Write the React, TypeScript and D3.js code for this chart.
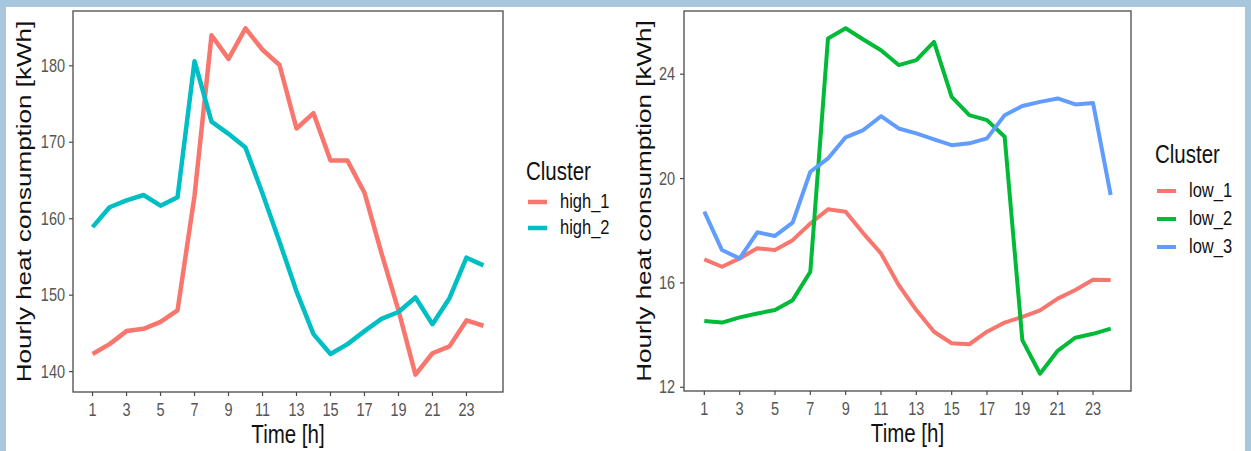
import React from "react";
import * as d3 from "d3";

const hours = d3.range(1, 25);
const xTicks = [1, 3, 5, 7, 9, 11, 13, 15, 17, 19, 21, 23];

const high1 = [142.3, 143.6, 145.3, 145.6, 146.5, 148.0, 163.0, 184.0, 180.9, 184.9, 182.1, 180.1, 171.8, 173.8, 167.6, 167.6, 163.4, 155.5, 148.0, 139.6, 142.4, 143.3, 146.7, 146.0];
const high2 = [158.9, 161.5, 162.4, 163.1, 161.7, 162.8, 180.6, 172.7, 171.1, 169.3, 163.3, 157.0, 150.5, 144.9, 142.3, 143.6, 145.3, 146.9, 147.8, 149.7, 146.2, 149.6, 154.9, 153.9];
const leftTicks = [140, 150, 160, 170, 180];

const low1 = [16.9, 16.62, 16.94, 17.33, 17.26, 17.64, 18.28, 18.82, 18.73, 17.9, 17.13, 15.92, 14.96, 14.13, 13.69, 13.65, 14.13, 14.48, 14.7, 14.95, 15.4, 15.73, 16.12, 16.11];
const low2 = [14.54, 14.48, 14.68, 14.83, 14.96, 15.34, 16.43, 25.37, 25.76, 25.33, 24.92, 24.35, 24.54, 25.24, 23.13, 22.43, 22.24, 21.6, 13.81, 12.52, 13.4, 13.9, 14.05, 14.25];
const low3 = [18.73, 17.26, 16.94, 17.94, 17.8, 18.31, 20.26, 20.77, 21.58, 21.86, 22.39, 21.92, 21.73, 21.5, 21.28, 21.35, 21.54, 22.43, 22.78, 22.94, 23.07, 22.84, 22.9, 19.37];
const rightTicks = [12, 16, 20, 24];

const leftSeries = [
  { name: "high_1", values: high1, color: "#F8766D" },
  { name: "high_2", values: high2, color: "#00BFC4" },
];
const rightSeries = [
  { name: "low_1", values: low1, color: "#F8766D" },
  { name: "low_2", values: low2, color: "#00BA38" },
  { name: "low_3", values: low3, color: "#619CFF" },
];

const FONT = "'Liberation Sans', Arial, sans-serif";
const VS = 1.22;

type Series = { name: string; values: number[]; color: string };

function Panel(props: {
  left: number; right: number; top: number; bottom: number;
  series: Series[]; yTicks: number[]; lineW: number;
  titleX: number; tickLabelEnd: number;
  legendX: number; legendTitleY: number; legendKeyY0: number; legendStep: number;
}) {
  const { left, right, top, bottom, series, yTicks, lineW } = props;
  const x = d3.scaleLinear().domain([1 - 1.15, 24 + 1.15]).range([left, right]);
  const all = series.flatMap((s) => s.values);
  const [mn, mx] = d3.extent(all) as [number, number];
  const pad = (mx - mn) * 0.05;
  const y = d3.scaleLinear().domain([mn - pad, mx + pad]).range([bottom, top]);
  const line = d3.line<number>().x((_, i) => x(hours[i])).y((d) => y(d));
  const cx = (left + right) / 2;
  const cy = (top + bottom) / 2;
  return (
    <g>
      {series.map((s) => (
        <path key={s.name} d={line(s.values) || ""} fill="none" stroke={s.color} strokeWidth={lineW} strokeLinejoin="round" />
      ))}
      <rect x={left} y={top} width={right - left} height={bottom - top} fill="none" stroke="#4a4a4a" strokeWidth={1.3} />
      {yTicks.map((t) => (
        <g key={t}>
          <line x1={left - 4} x2={left} y1={y(t)} y2={y(t)} stroke="#4a4a4a" strokeWidth={1.2} />
          <text transform={`translate(${props.tickLabelEnd},${y(t) + 6}) scale(1,${VS})`} textAnchor="end" fontSize={14.5} fill="#555" fontFamily={FONT}>{t}</text>
        </g>
      ))}
      {xTicks.map((t) => (
        <g key={t}>
          <line x1={x(t)} x2={x(t)} y1={bottom} y2={bottom + 4} stroke="#4a4a4a" strokeWidth={1.2} />
          <text transform={`translate(${x(t)},${bottom + 24}) scale(1,${VS})`} textAnchor="middle" fontSize={14.5} fill="#555" fontFamily={FONT}>{t}</text>
        </g>
      ))}
      <text transform={`translate(${cx},${bottom + 51}) scale(1,${VS})`} textAnchor="middle" fontSize={20.5} fill="#111" fontFamily={FONT}>Time [h]</text>
      <text transform={`translate(${props.titleX},${cy}) rotate(-90) scale(1.27,1)`} textAnchor="middle" fontSize={20.5} fill="#111" fontFamily={FONT}>Hourly heat consumption [kWh]</text>
      <text transform={`translate(${props.legendX},${props.legendTitleY}) scale(1,${VS})`} fontSize={20.5} fill="#111" fontFamily={FONT}>Cluster</text>
      {series.map((s, i) => {
        const ky = props.legendKeyY0 + i * props.legendStep;
        return (
          <g key={s.name}>
            <line x1={props.legendX + 2} x2={props.legendX + 21} y1={ky} y2={ky} stroke={s.color} strokeWidth={lineW} />
            <text transform={`translate(${props.legendX + 34},${ky + 6}) scale(1,${VS})`} fontSize={16.5} fill="#111" fontFamily={FONT}>{s.name}</text>
          </g>
        );
      })}
    </g>
  );
}

export default function App() {
  return (
    <svg width={1251} height={451} style={{ position: "absolute", left: 0, top: 0, display: "block" }}>
      <rect x={0} y={0} width={1251} height={451} fill="#a8c7dd" />
      <rect x={6} y={7} width={1239} height={444} fill="#ffffff" />
      <Panel left={73} right={503} top={11} bottom={392} series={leftSeries} yTicks={leftTicks} lineW={4.5}
        titleX={31} tickLabelEnd={65} legendX={526} legendTitleY={180} legendKeyY0={202} legendStep={26} />
      <Panel left={684} right={1131} top={11} bottom={391} series={rightSeries} yTicks={rightTicks} lineW={4}
        titleX={651} tickLabelEnd={675} legendX={1155} legendTitleY={163} legendKeyY0={191} legendStep={28} />
    </svg>
  );
}
